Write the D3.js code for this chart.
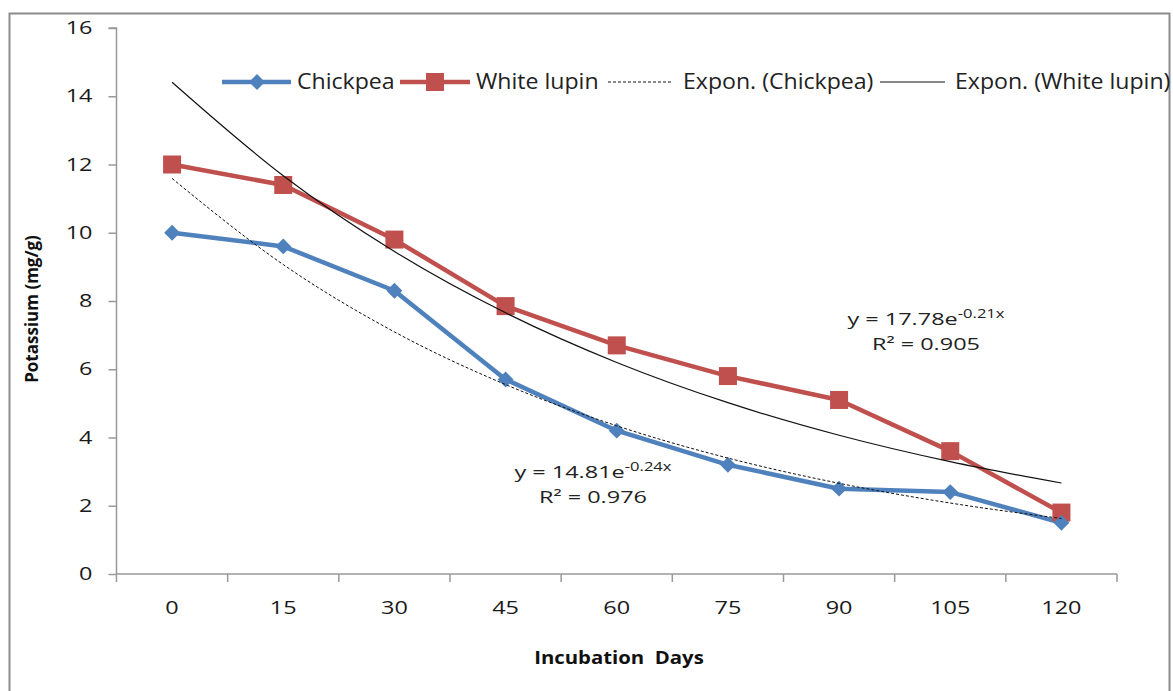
<!DOCTYPE html>
<html><head><meta charset="utf-8">
<script src="https://cdn.jsdelivr.net/npm/d3@7"></script>
<style>body{margin:0;background:#fff;} text{font-family:"Open Sans","Liberation Sans",sans-serif;}</style>
</head><body>
<svg id="c" width="1173" height="691"></svg>
<script>
const categories = ["0","15","30","45","60","75","90","105","120"];
const chickpea = [10, 9.6, 8.3, 5.7, 4.2, 3.2, 2.5, 2.4, 1.5];
const whiteLupin = [12, 11.4, 9.8, 7.85, 6.7, 5.8, 5.1, 3.6, 1.8];
const yTicks = [0, 2, 4, 6, 8, 10, 12, 14, 16];
const eqChickpea = {a: "14.81", b: "-0.24x", r2: "0.976"};
const eqLupin = {a: "17.78", b: "-0.21x", r2: "0.905"};

const svg = d3.select("#c");
const blue = "#4F81BD", red = "#C0504D";
const L = 116.5, R = 1117, T = 28, B = 574;
const SX = 1.38; // horizontal stretch of the numeric labels

// stretch a text horizontally about its anchor x
function stretch(sel, s){
  sel.each(function(){
    const t = d3.select(this);
    const ax = +t.attr("x") || 0;
    t.attr("transform", `translate(${ax},0) scale(${s},1) translate(${-ax},0)`);
  });
}

svg.append("rect").attr("x",9.5).attr("y",13.5).attr("width",1160).attr("height",690)
  .attr("fill","none").attr("stroke","#8c8c8c").attr("stroke-width",2);

const x = d3.scaleBand().domain(categories).range([L, R]);
const y = d3.scaleLinear().domain([0,16]).range([B, T]);
const cx = c => x(c) + x.bandwidth()/2;

// y axis
const ya = svg.append("g").attr("transform",`translate(${L},0)`)
  .call(d3.axisLeft(y).tickValues(yTicks).tickSize(8).tickPadding(16));
ya.select(".domain").attr("stroke","#999").attr("stroke-width",1.5).attr("d",`M-8,${T}H0V${B}`);
ya.selectAll("line").attr("stroke","#999").attr("stroke-width",1.5);
ya.selectAll("text").attr("font-size",17.5).attr("fill","#1a1a1a").attr("font-family","Open Sans, sans-serif").call(stretch, 1.34);

// x axis
const xa = svg.append("g").attr("transform",`translate(0,${B})`)
  .call(d3.axisBottom(x).tickSize(0).tickPadding(28));
xa.select(".domain").attr("stroke","#999").attr("stroke-width",1.5).attr("d",`M${L},0H${R}`);
xa.selectAll("text").attr("font-size",17.5).attr("fill","#1a1a1a").attr("font-family","Open Sans, sans-serif").call(stretch, 1.34);
const edges = categories.map(c => x(c)).concat([R]);
svg.append("g").selectAll("line").data(edges).join("line")
  .attr("x1",d=>d).attr("x2",d=>d).attr("y1",B).attr("y2",B+8).attr("stroke","#999").attr("stroke-width",1.5);

// axis titles
svg.append("text").attr("transform",`translate(38,309) rotate(-90)`).attr("text-anchor","middle")
  .attr("font-size",17).attr("font-weight","bold").attr("fill","#111").text("Potassium (mg/g)");
svg.append("text").attr("x",619).attr("y",664).attr("text-anchor","middle")
  .attr("font-size",18).attr("font-weight","bold").attr("fill","#111").attr("xml:space","preserve")
  .text("Incubation  Days").call(stretch, 1.13);

// series
const line = d3.line().x((d,i)=>cx(categories[i])).y(d=>y(d));
svg.append("path").datum(whiteLupin).attr("d",line).attr("fill","none").attr("stroke",red).attr("stroke-width",4.5).attr("stroke-linejoin","round");
svg.append("path").datum(chickpea).attr("d",line).attr("fill","none").attr("stroke",blue).attr("stroke-width",4.5).attr("stroke-linejoin","round");
svg.append("g").selectAll("rect").data(whiteLupin).join("rect")
  .attr("x",(d,i)=>cx(categories[i])-9).attr("y",d=>y(d)-9).attr("width",18).attr("height",18).attr("fill",red);
const diamond = d3.symbol().type(d3.symbolDiamond2).size(160);
svg.append("g").selectAll("path").data(chickpea).join("path")
  .attr("transform",(d,i)=>`translate(${cx(categories[i])},${y(d)})`).attr("d",diamond).attr("fill",blue);

// exponential trendlines (least squares on ln y, x = 1..n)
function expFit(vals){
  const xs = vals.map((_,i)=>i+1), ls = vals.map(Math.log);
  const mx = d3.mean(xs), ml = d3.mean(ls);
  const b = d3.sum(xs.map((v,i)=>(v-mx)*(ls[i]-ml))) / d3.sum(xs.map(v=>(v-mx)**2));
  const a = Math.exp(ml - b*mx);
  return xs.map(v=>a*Math.exp(b*v));
}
function trendPath(vals){
  const fit = expFit(vals);
  return d3.line().x((d,i)=>cx(categories[i])).y(d=>y(d)).curve(d3.curveMonotoneX)(fit);
}
svg.append("path").attr("d",trendPath(chickpea)).attr("fill","none").attr("stroke","#111").attr("stroke-width",1).attr("stroke-dasharray","3,2");
svg.append("path").attr("d",trendPath(whiteLupin)).attr("fill","none").attr("stroke","#111").attr("stroke-width",1.2);

// equation labels
function eq(xc, yc, e){
  const t = svg.append("text").attr("x",xc).attr("y",yc).attr("text-anchor","middle").attr("font-size",17).attr("fill","#222");
  t.append("tspan").text("y = " + e.a + "e");
  t.append("tspan").attr("dy",-7).attr("font-size",12).text(e.b);
  t.call(stretch, SX);
  svg.append("text").attr("x",xc).attr("y",yc+25).attr("text-anchor","middle").attr("font-size",17).attr("fill","#222")
    .text("R² = " + e.r2).call(stretch, SX);
}
eq(926, 325, eqLupin);
eq(593, 478, eqChickpea);

// legend
const lg = svg.append("g").attr("font-size",21).attr("fill","#222");
const ly = 82, LS = 1.1;
lg.append("line").attr("x1",222).attr("x2",291).attr("y1",ly).attr("y2",ly).attr("stroke",blue).attr("stroke-width",4.5);
lg.append("path").attr("transform",`translate(257,${ly})`).attr("d",diamond).attr("fill",blue);
lg.append("text").attr("x",297).attr("y",ly+7).text("Chickpea").call(stretch, LS);
lg.append("line").attr("x1",400).attr("x2",470).attr("y1",ly).attr("y2",ly).attr("stroke",red).attr("stroke-width",4.5);
lg.append("rect").attr("x",426).attr("y",ly-9).attr("width",18).attr("height",18).attr("fill",red);
lg.append("text").attr("x",476).attr("y",ly+7).text("White lupin").call(stretch, LS);
lg.append("line").attr("x1",608).attr("x2",672).attr("y1",ly).attr("y2",ly).attr("stroke","#111").attr("stroke-width",1).attr("stroke-dasharray","3,2");
lg.append("text").attr("x",683).attr("y",ly+7).text("Expon. (Chickpea)").call(stretch, LS);
lg.append("line").attr("x1",880).attr("x2",945).attr("y1",ly).attr("y2",ly).attr("stroke","#111").attr("stroke-width",1);
lg.append("text").attr("x",955).attr("y",ly+7).text("Expon. (White lupin)").call(stretch, LS);
</script>
</body></html>
